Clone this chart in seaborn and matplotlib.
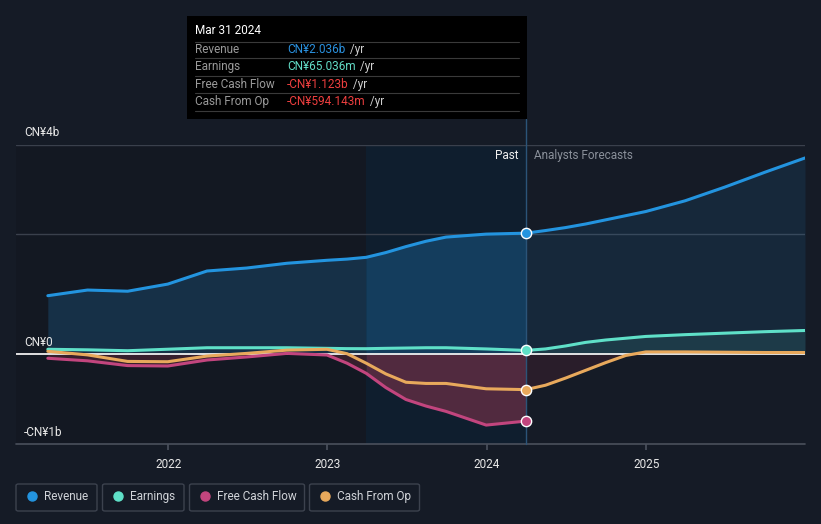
import pandas as pd
import matplotlib.pyplot as plt
import seaborn as sns
from matplotlib.patches import FancyBboxPatch, Rectangle
from matplotlib.lines import Line2D
from matplotlib.text import Annotation

# values in CN¥ billions
past_dates = ["2021-03-31", "2021-06-30", "2021-09-30", "2021-12-31", "2022-03-31",
              "2022-06-30", "2022-09-30", "2022-12-31", "2023-02-15", "2023-03-31",
              "2023-05-15", "2023-06-30", "2023-08-15", "2023-09-30", "2023-12-31",
              "2024-03-31"]
forecast_dates = ["2024-03-31", "2024-05-15", "2024-06-30", "2024-08-15", "2024-09-30",
                  "2024-11-15", "2024-12-31", "2025-03-31", "2025-06-30", "2025-09-30",
                  "2025-12-31"]

revenue_past = [0.985, 1.08, 1.06, 1.18, 1.40, 1.45, 1.53, 1.58, 1.60, 1.63,
                1.71, 1.81, 1.90, 1.97, 2.02, 2.036]
earnings_past = [0.084, 0.075, 0.06, 0.085, 0.11, 0.11, 0.11, 0.10, 0.095, 0.094,
                 0.10, 0.105, 0.11, 0.11, 0.09, 0.065]
fcf_past = [-0.067, -0.11, -0.19, -0.197, -0.096, -0.045, 0.015, -0.012, -0.15, -0.32,
            -0.56, -0.76, -0.87, -0.96, -1.19, -1.123]
cfo_past = [0.05, -0.01, -0.12, -0.125, -0.03, 0.015, 0.07, 0.084, 0.01, -0.15,
            -0.33, -0.47, -0.49, -0.49, -0.58, -0.594]

revenue_fc = [2.036, 2.08, 2.13, 2.19, 2.26, 2.33, 2.40, 2.58, 2.81, 3.06, 3.30]
earnings_fc = [0.065, 0.09, 0.14, 0.20, 0.24, 0.27, 0.30, 0.33, 0.355, 0.38, 0.40]
cfo_fc = [-0.594, -0.52, -0.40, -0.27, -0.14, -0.02, 0.04, 0.04, 0.035, 0.03, 0.03]

series_names = ["Revenue", "Earnings", "Free Cash Flow", "Cash From Op"]
colors = {"Revenue": "#2394df", "Earnings": "#5fe0c8",
          "Free Cash Flow": "#c2457e", "Cash From Op": "#e8a95c"}

tip_labels = ["Revenue", "Earnings", "Free Cash Flow", "Cash From Op"]
tip_values = ["CN¥2.036b", "CN¥65.036m", "-CN¥1.123b", "-CN¥594.143m"]
tip_colors = ["#2a91df", "#62dcc6", "#ee3f3f", "#ee3f3f"]

year_ticks = ["2022", "2023", "2024", "2025"]

bg = "#151b26"

sns.set_theme(style="dark")
plt.rcParams['font.family'] = ['Roboto', 'DejaVu Sans']

# build a long table for seaborn
pd_past = pd.to_datetime(past_dates)
pd_fc = pd.to_datetime(forecast_dates)
frames = []
for name, past, fc in [("Revenue", revenue_past, revenue_fc),
                       ("Earnings", earnings_past, earnings_fc),
                       ("Free Cash Flow", fcf_past, None),
                       ("Cash From Op", cfo_past, cfo_fc)]:
    frames.append(pd.DataFrame({"date": pd_past, "value": past, "series": name}))
    if fc is not None:
        frames.append(pd.DataFrame({"date": pd_fc[1:], "value": fc[1:], "series": name}))
df = pd.concat(frames, ignore_index=True)

fig = plt.figure(figsize=(8.21, 5.24), dpi=100, facecolor=bg)
ax = fig.add_axes([16 / 821, 80 / 524, 789 / 821, 299 / 524])
ax.set_facecolor(bg)

x_left = pd.Timestamp("2021-01-17")
x_right = pd.Timestamp("2025-12-31")
band_start = pd.Timestamp("2023-03-31")
now = pd.Timestamp("2024-03-31")
y_bot, y_top = -1.508, 3.518

# background regions
ax.axvspan(x_left, band_start, color="#131822", zorder=0, lw=0)
ax.axvspan(band_start, now, color="#0f1e2e", zorder=0, lw=0)

# gridlines
for yv in [y_top, 2.02]:
    ax.axhline(yv, color="#3a404c", lw=1, zorder=1)
ax.axhline(y_bot, color="#4a505c", lw=1.2, zorder=1, clip_on=False)

# area fills
in_band = (pd_past >= band_start)
ax.fill_between(pd_past, 0, revenue_past, where=~in_band | (pd_past == band_start),
                color="#2394df", alpha=0.2, lw=0, zorder=1)
ax.fill_between(pd_past, 0, revenue_past, where=in_band,
                color="#2394df", alpha=0.27, lw=0, zorder=1)
ax.fill_between(pd_fc, 0, revenue_fc, color="#2394df", alpha=0.11, lw=0, zorder=1)
ax.fill_between(pd_fc, 0, earnings_fc, color="#5fe0c8", alpha=0.10, lw=0, zorder=1)
fcf_neg = [min(v, 0) for v in fcf_past]
ax.fill_between(pd_past, 0, fcf_neg, where=~in_band | (pd_past == band_start),
                color="#c8405e", alpha=0.2, lw=0, zorder=1)
ax.fill_between(pd_past, 0, fcf_neg, where=in_band,
                color="#c8405e", alpha=0.36, lw=0, zorder=1)
ax.fill_between(pd_fc, 0, [min(v, 0) for v in cfo_fc], color="#c0304a", alpha=0.12, lw=0, zorder=1)

ax.axhline(0, color="#f0f0f0", lw=1.3, zorder=2)

sns.lineplot(data=df, x="date", y="value", hue="series", hue_order=series_names,
             palette=colors, linewidth=2.2, legend=False, ax=ax, zorder=3)

# markers at the latest reported point
last_vals = [revenue_past[-1], earnings_past[-1], fcf_past[-1], cfo_past[-1]]
for name, v in zip(series_names, last_vals):
    ax.scatter([now], [v], s=55, color=colors[name], edgecolor="white", linewidth=1, zorder=5)

ax.axvline(now, ymin=0, ymax=(444 - 119) / 299, color="#2b5478", lw=1, zorder=2, clip_on=False)

ax.set_xlim(x_left, x_right)
ax.set_ylim(y_bot, y_top)
ax.set_xticks(pd.to_datetime([y + "-01-01" for y in year_ticks]))
ax.set_xticklabels(year_ticks, color="#e8e8e8", fontsize=8.5)
ax.tick_params(axis="x", length=4, color="#4a505c", pad=6, bottom=True)
ax.set_yticks([])
ax.set_xlabel("")
ax.set_ylabel("")
for s in ax.spines.values():
    s.set_visible(False)
ax.grid(False)

# y labels
for txt, ypx in [("CN¥4b", 132), ("CN¥0", 342), ("-CN¥1b", 432)]:
    fig.text(24 / 821, 1 - ypx / 524, txt, color="#e8e8e8", fontsize=8.5, va="center", ha="left")

fig.text(518 / 821, 1 - 156 / 524, "Past", color="#f0f0f0", fontsize=8.5, va="center", ha="right")
fig.text(534 / 821, 1 - 156 / 524, "Analysts Forecasts", color="#8a909a", fontsize=8.5, va="center", ha="left")

# tooltip box
fig.patches.append(Rectangle((187 / 821, 1 - 119 / 524), 340 / 821, 103 / 524,
                             transform=fig.transFigure, facecolor="#000000", edgecolor="none", zorder=10))
fig.text(195 / 821, 1 - 31 / 524, "Mar 31 2024", color="#ffffff", fontsize=8.5, va="center",
         ha="left", zorder=11)
for ypx in [41.5, 58, 75.5, 93, 110.5]:
    fig.add_artist(Line2D([195 / 821, 519 / 821], [1 - ypx / 524, 1 - ypx / 524],
                          transform=fig.transFigure, color="#3a3a3a", lw=0.8, zorder=11))
for i, (lab, val, col) in enumerate(zip(tip_labels, tip_values, tip_colors)):
    ypx = 49.5 + i * 17.3
    fig.text(195 / 821, 1 - ypx / 524, lab, color="#9a9a9a", fontsize=8.5, va="center", ha="left", zorder=11)
    t = fig.text(287 / 821, 1 - ypx / 524, val, color=col, fontsize=8.5, va="center", ha="left", zorder=11)
    yr = Annotation(" /yr", xy=(1, 0.5), xycoords=t, xytext=(1, 0), textcoords="offset points",
                    color="#cfcfcf", fontsize=8.5, va="center", ha="left", annotation_clip=False)
    yr.set_zorder(12)
    fig.add_artist(yr)

# legend boxes
legend_boxes = [(16, 97, 31.5, 44), (102.5, 184, 118, 130), (189.5, 304.5, 205, 217),
                (309.5, 419.5, 325, 337)]
for name, (x0, x1, xd, xt) in zip(series_names, legend_boxes):
    fig.patches.append(FancyBboxPatch((x0 / 821, 1 - 511 / 524), (x1 - x0) / 821, 27 / 524,
                                      boxstyle="round,pad=0,rounding_size=0.003",
                                      transform=fig.transFigure, facecolor=bg,
                                      edgecolor="#3c424e", lw=1))
    fig.add_artist(Line2D([xd / 821], [1 - 496 / 524], marker="o", markersize=6.5,
                          color=colors[name], transform=fig.transFigure, lw=0))
    fig.text(xt / 821, 1 - 496.5 / 524, name, color="#d0d3d8", fontsize=8.5, va="center", ha="left")

fig.savefig("out.png", dpi=100, facecolor=bg)
